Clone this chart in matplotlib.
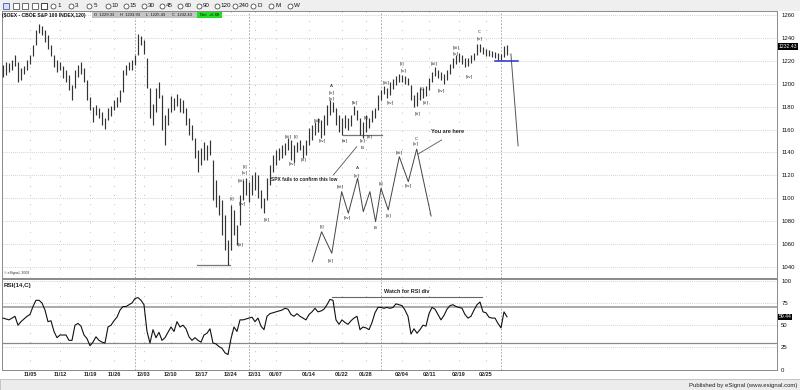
import matplotlib
matplotlib.use('Agg')
import matplotlib.pyplot as plt
from matplotlib.patches import Rectangle
from matplotlib.lines import Line2D
import matplotlib.transforms as mtransforms

# ---------------- data ----------------
highs = [1216.4, 1219.0, 1218.1, 1220.7, 1225.1, 1219.0, 1213.7, 1215.5, 1220.7, 1225.1,
         1233.8, 1246.9, 1252.1, 1250.4, 1246.9, 1242.5, 1233.8, 1225.1, 1220.7, 1219.0,
         1215.5, 1212.0, 1207.6, 1198.9, 1212.0, 1216.4, 1219.0, 1213.7, 1203.3, 1188.4,
         1179.7, 1181.4, 1178.8, 1175.3, 1170.1, 1178.8, 1180.6, 1185.8, 1188.4, 1194.5,
         1212.0, 1216.4, 1219.0, 1220.7, 1225.1, 1243.4, 1241.7, 1238.2, 1222.5, 1196.0,
         1182.3, 1196.3, 1201.5, 1190.2, 1172.7, 1178.8, 1189.3, 1187.5, 1191.0, 1187.5,
         1185.8, 1178.8, 1170.1, 1164.0, 1152.6, 1142.1, 1143.9, 1149.1, 1146.5, 1150.9,
         1133.0, 1116.0, 1102.9, 1098.5, 1085.4, 1063.6, 1094.1, 1089.8, 1076.7, 1102.9,
         1116.0, 1117.7, 1114.2, 1120.3, 1123.0, 1120.3, 1107.2, 1100.3, 1117.7, 1129.0,
         1137.8, 1142.1, 1143.9, 1146.5, 1148.3, 1152.6, 1150.9, 1146.5, 1149.1, 1150.9,
         1146.5, 1150.9, 1161.4, 1164.0, 1166.6, 1170.1, 1168.3, 1172.7, 1181.4, 1185.8,
         1184.1, 1178.8, 1172.7, 1170.1, 1172.7, 1170.1, 1172.7, 1180.6, 1177.1, 1170.1,
         1166.6, 1172.7, 1170.1, 1177.1, 1178.8, 1190.2, 1194.5, 1198.0, 1196.3, 1201.5,
         1204.1, 1206.8, 1208.5, 1207.6, 1206.8, 1205.0, 1198.9, 1190.2, 1192.8, 1196.3,
         1196.3, 1198.0, 1205.0, 1210.2, 1214.6, 1212.0, 1210.2, 1208.5, 1212.0, 1217.2,
         1222.5, 1225.1, 1226.8, 1225.1, 1222.5, 1222.5, 1225.1, 1226.8, 1234.7, 1234.7,
         1232.1, 1230.3, 1229.4, 1228.6, 1227.7, 1226.8, 1226.0, 1232.9, 1233.93]
lows = [1205.9, 1207.6, 1210.2, 1212.0, 1215.5, 1201.5, 1203.3, 1208.5, 1212.0, 1217.2,
        1224.2, 1233.8, 1244.3, 1242.5, 1236.4, 1230.3, 1224.2, 1214.6, 1210.2, 1212.0,
        1205.0, 1201.5, 1194.5, 1185.8, 1196.3, 1205.9, 1208.5, 1201.5, 1185.8, 1177.1,
        1166.6, 1172.7, 1170.1, 1164.0, 1160.5, 1168.3, 1171.8, 1177.1, 1179.7, 1184.1,
        1192.8, 1207.6, 1212.0, 1212.0, 1216.4, 1225.1, 1233.8, 1226.0, 1196.3, 1170.1,
        1164.0, 1175.3, 1187.5, 1159.6, 1146.5, 1164.0, 1175.3, 1177.1, 1180.6, 1175.3,
        1174.4, 1164.0, 1155.2, 1150.9, 1135.2, 1122.9, 1129.0, 1133.4, 1133.4, 1137.8,
        1098.5, 1092.4, 1085.4, 1067.9, 1054.8, 1041.7, 1054.8, 1067.9, 1059.2, 1076.7,
        1098.5, 1102.9, 1096.8, 1102.9, 1107.2, 1100.3, 1091.5, 1087.2, 1098.5, 1111.6,
        1122.9, 1129.0, 1133.4, 1135.2, 1137.8, 1142.1, 1133.4, 1131.7, 1140.4, 1142.1,
        1135.2, 1137.8, 1146.5, 1150.9, 1155.2, 1157.9, 1152.6, 1155.2, 1164.0, 1172.7,
        1175.3, 1164.0, 1157.9, 1155.2, 1161.4, 1159.6, 1163.1, 1172.7, 1168.3, 1155.2,
        1152.6, 1157.9, 1161.4, 1166.6, 1170.1, 1177.1, 1185.8, 1191.0, 1187.5, 1190.2,
        1195.4, 1198.9, 1201.5, 1201.5, 1199.8, 1198.9, 1185.8, 1179.7, 1180.6, 1185.8,
        1187.5, 1189.3, 1194.5, 1201.5, 1206.8, 1205.0, 1203.3, 1199.8, 1203.3, 1208.5,
        1213.7, 1217.2, 1219.0, 1217.2, 1214.6, 1215.5, 1218.1, 1220.7, 1225.1, 1227.7,
        1226.0, 1224.2, 1224.2, 1223.3, 1222.5, 1220.7, 1220.7, 1223.3, 1225.43]
rsi = [58, 57, 56, 58, 60, 50, 54, 57, 60, 62,
       71, 78, 78, 75, 67, 54, 55, 43, 36, 39,
       39, 39, 33, 33, 50, 52, 49, 39, 35, 27,
       31, 37, 33, 31, 30, 48, 50, 55, 59, 67,
       71, 71, 73, 75, 80, 81, 78, 73, 43, 30,
       45, 36, 42, 33, 36, 42, 48, 43, 54, 48,
       50, 46, 37, 33, 36, 33, 31, 39, 41, 46,
       30, 29, 26, 24, 19, 17, 35, 48, 43, 56,
       56, 57, 58, 59, 54, 58, 49, 45, 60, 63,
       64, 65, 66, 67, 69, 68, 62, 60, 63, 60,
       58, 56, 62, 65, 69, 65, 66, 68, 73, 79,
       78, 56, 51, 56, 53, 51, 55, 58, 60, 45,
       48, 47, 45, 53, 64, 70, 70, 69, 70, 69,
       70, 74, 73, 72, 67, 60, 40, 46, 41, 45,
       50, 49, 63, 70, 68, 62, 56, 61, 68, 72,
       73, 71, 70, 69, 62, 58, 60, 67, 73, 76,
       65, 64, 59, 58, 58, 52, 47, 65, 59.44]

date_labels = ['11/05', '11/12', '11/19', '11/26', '12/03', '12/10', '12/17', '12/24',
               '12/31', '01/07', '01/14', '01/22', '01/28', '02/04', '02/11', '02/19', '02/25']
date_bars = [9, 19, 29, 37, 47, 56, 66, 76, 84, 91, 102, 113, 121, 133, 142, 152, 161]
month_bars = [44, 82, 126, 166]

quote_open, quote_high, quote_low, quote_close, quote_net = 1229.33, 1233.93, 1225.43, 1232.43, 6.88
rsi_last = 59.44

# projected wave path (bar index, price)
proj_bars = [103.1, 106.2, 109.6, 112.9, 115.1, 118.2, 120.1, 122.3, 124.2, 126.0, 128.4, 132.1, 135.1, 137.9, 142.7]
proj_prices = [1044.6, 1070.8, 1052.0, 1105.8, 1086.9, 1117.5, 1088.3, 1105.8, 1079.6, 1108.7, 1089.8, 1136.3, 1114.5, 1143.0, 1084.5]

support_level = 1220
low_level = 1041.7
ab_level = 1155

wave_labels = [
    ('[i]', 80.5, 1127.7), ('[v]', 80.5, 1122.9), ('[iii]', 79.3, 1115.5), ('[i]', 76.4, 1100.2),
    ('[iv]', 79.8, 1095.4), ('[ii]', 79.2, 1060.1), ('[ii]', 87.7, 1081.6), ('[iii]', 95, 1154.4),
    ('[i]', 97.7, 1154.4), ('[iv]', 96.5, 1130.5), ('[ii]', 100.3, 1134.0), ('[iii]', 104.8, 1168.3),
    ('[iv]', 106.4, 1150.9), ('A', 109.6, 1198.0), ('[v]', 109.6, 1192.5), ('[v]', 109.6, 1187.3),
    ('[a]', 113.8, 1150.9), ('[b]', 117.3, 1183.4), ('[c]', 119.8, 1150.9), ('B', 119.6, 1144.2),
    ('[i]', 121, 1170.3), ('[ii]', 122.3, 1153.8), ('[iii]', 127.7, 1201.1), ('[iv]', 129, 1184.1),
    ('[i]', 133.1, 1217.5), ('[v]', 133.4, 1211.7), ('[ii]', 138.1, 1173.8), ('[i]', 139.8, 1196.3),
    ('[ii]', 140.9, 1183.4), ('[iii]', 143.8, 1217.5), ('[iv]', 146, 1194.3), ('[iii]', 151, 1232.1),
    ('[v]', 151, 1226.2), ('[iv]', 155.3, 1206.8), ('C', 158.8, 1245.2), ('[v]', 158.8, 1239.9),
    ('[i]', 106.2, 1075.8), ('[ii]', 109.3, 1046.1), ('[iii]', 112.3, 1110.7), ('[iv]', 114.9, 1083.0),
    ('A', 118, 1126.2), ('[v]', 118, 1120.3), ('B', 124.2, 1073.8), ('[i]', 126, 1113.1),
    ('[ii]', 128.4, 1084.8), ('[iii]', 132.1, 1139.8), ('[iv]', 135.1, 1111.6), ('C', 137.7, 1152.0),
    ('[v]', 137.7, 1147.6),
]

toolbar_items = ['1', '3', '5', '10', '15', '30', '45', '60', '90', '120', '240', 'D', 'M', 'W']

# ---------------- figure ----------------
W, H = 800, 390
plt.rcParams['font.family'] = ['Liberation Sans', 'DejaVu Sans']
fig = plt.figure(figsize=(8, 3.9), dpi=100, facecolor='white')


def fx(x):
    return x / W


def fy(y):
    return 1 - y / H


def rect_px(x0, y0, x1, y1):
    return [fx(x0), fy(y1), fx(x1) - fx(x0), fy(y0) - fy(y1)]


# toolbar
fig.add_artist(Rectangle((0, fy(11)), 1, 11 / H, transform=fig.transFigure,
                         facecolor='#efefef', edgecolor='none'))
icon_cols = ['#3b5bb5', '#555555', '#555555', '#555555', '#222222']
for k, c in enumerate(icon_cols):
    fig.add_artist(Rectangle((fx(3 + k * 9.5), fy(9)), 6 / W, 6 / H, transform=fig.transFigure,
                             facecolor='white' if k else '#d9def5', edgecolor=c, lw=0.6))
for k, lab in enumerate(toolbar_items):
    cx = 53 + k * 18.2
    fig.add_artist(Line2D([fx(cx)], [fy(5.5)], marker='o', ms=3.6, mfc='white', mec='#333333',
                          mew=0.5, transform=fig.transFigure))
    fig.text(fx(cx + 4), fy(5.5), lab, fontsize=4.5, va='center', ha='left', color='#111111')

# bottom band
fig.add_artist(Rectangle((0, 0), 1, 11 / H, transform=fig.transFigure,
                         facecolor='#ececec', edgecolor='#b0b0b0', lw=0.5))
fig.text(fx(797), fy(385), 'Published by eSignal (www.esignal.com)', fontsize=4.3,
         ha='right', va='center', color='#222222')

# ---------------- price panel ----------------
ax = fig.add_axes(rect_px(2, 11, 777, 278))
n = len(highs)
idx = list(range(n))
ax.set_xlim(-0.33, 258)
ax.set_ylim(1030.4, 1263.5)

ax.set_yticks(list(range(1040, 1261, 20)))
ax.set_xticks(date_bars)
ax.yaxis.tick_right()
ax.tick_params(axis='y', length=0, labelsize=4.3, pad=3, labelcolor='#111111')
ax.tick_params(axis='x', length=0, labelbottom=False)
ax.grid(axis='y', ls=(0, (1.5, 1.5)), color='#c4c4c4', lw=0.5)
ax.grid(axis='x', ls=(0, (1, 10)), color='#a8a8a8', lw=0.6)
for sp in ax.spines.values():
    sp.set_color('#8a8a8a')
    sp.set_linewidth(0.7)
for b in month_bars:
    ax.axvline(b, color='#9a9a9a', ls=(0, (2, 2)), lw=0.6, zorder=1)

ax.vlines(idx, lows, highs, color='#333333', lw=0.85, zorder=3)

# projection and annotation lines
ax.plot(proj_bars, proj_prices, color='#444444', lw=0.7, zorder=3)
ax.plot([64.7, 75.7], [low_level, low_level], color='#777777', lw=0.9)
ax.plot([113.3, 126.3], [ab_level, ab_level], color='#777777', lw=0.9)
ax.plot([164, 171.7], [support_level, support_level], color='#2233cc', lw=1.1, zorder=4)
ax.plot([169.3, 171.7], [1226.0, 1145.8], color='#555555', lw=0.7)
ax.plot([110.1, 117.9], [1120.3, 1145.0], color='#555555', lw=0.6)
ax.plot([138.4, 146.2], [1138.7, 1150.9], color='#555555', lw=0.6)

for lab, bx, py in wave_labels:
    ax.text(bx, py, lab, fontsize=3.2, ha='center', va='center', color='#222222', zorder=5,
            family=['DejaVu Sans'])

ax.text(100.3, 1116.8, 'SPX fails to confirm this low', fontsize=3.5, ha='center', va='center',
        color='#222222', weight='bold')
ax.text(148.3, 1158.0, 'You are here', fontsize=4.0, ha='center', va='center',
        color='#222222', weight='bold')
ax.text(0.003, 0.012, '\u00a9 eSignal, 2008', transform=ax.transAxes, fontsize=2.5,
        ha='left', va='bottom', color='#333333')

# title row
fig.text(fx(2), fy(15.2), '($OEX - CBOE S&P 100 INDEX,120)',
         fontsize=3.6, weight='bold', ha='left', va='center', color='#111111')
fig.add_artist(Rectangle((fx(92), fy(17.8)), 105 / W, 5.4 / H, transform=fig.transFigure,
                         facecolor='#c4c4c4', edgecolor='none'))
for k, (tag, val) in enumerate([('O', quote_open), ('H', quote_high), ('L', quote_low), ('C', quote_close)]):
    fig.text(fx(94 + k * 26), fy(15.2), '%s  %.2f' % (tag, val), fontsize=3.0,
             ha='left', va='center', color='#111111')
fig.add_artist(Rectangle((fx(197), fy(17.8)), 25 / W, 5.4 / H, transform=fig.transFigure,
                         facecolor='#22dd22', edgecolor='none'))
fig.text(fx(209.5), fy(15.2), 'Net  +%.2f' % quote_net, fontsize=3.0, ha='center', va='center',
         color='#111111')

# last price marker
trans_p = mtransforms.blended_transform_factory(ax.transAxes, ax.transData)
ax.text(1.002, quote_close, '%.2f' % quote_close, transform=trans_p, fontsize=3.7, color='white',
        ha='left', va='center', clip_on=False,
        bbox=dict(boxstyle='square,pad=0.12', facecolor='black', edgecolor='none'))

# ---------------- RSI panel ----------------
ax2 = fig.add_axes(rect_px(2, 279, 777, 370))
ax2.set_xlim(-0.33, 258)
ax2.set_ylim(-0.3, 101.9)
ax2.plot(idx, rsi, color='#111111', lw=0.8, zorder=3)
ax2.set_yticks([0, 25, 50, 75, 100])
ax2.yaxis.tick_right()
ax2.tick_params(axis='y', length=0, labelsize=4.3, pad=3, labelcolor='#111111')
ax2.set_xticks(date_bars)
ax2.set_xticklabels(date_labels, fontsize=4.0, weight='bold', color='#222222')
ax2.tick_params(axis='x', length=0, pad=1.8)
ax2.grid(axis='y', ls=(0, (1.5, 1.5)), color='#c4c4c4', lw=0.5)
ax2.grid(axis='x', ls=(0, (1, 10)), color='#a8a8a8', lw=0.6)
for b in month_bars:
    ax2.axvline(b, color='#9a9a9a', ls=(0, (2, 2)), lw=0.6, zorder=1)
ax2.axhline(70, color='#aaaaaa', lw=1.4, zorder=2)
ax2.axhline(30, color='#888888', lw=0.9, zorder=2)
for sp in ax2.spines.values():
    sp.set_color('#8a8a8a')
    sp.set_linewidth(0.7)
ax2.plot([109.6, 159.6], [81.5, 81.5], color='#666666', lw=0.8)
ax2.text(134.5, 87.5, 'Watch for RSI div', fontsize=4.0, ha='center', va='center',
         color='#222222', weight='bold')
ax2.text(0.002, 0.93, 'RSI(14,C)', transform=ax2.transAxes, fontsize=4.5, weight='bold',
         ha='left', va='center', color='#222222')
trans_r = mtransforms.blended_transform_factory(ax2.transAxes, ax2.transData)
ax2.text(1.002, rsi_last, '%.2f' % rsi_last, transform=trans_r, fontsize=3.7, color='white',
         ha='left', va='center', clip_on=False,
         bbox=dict(boxstyle='square,pad=0.12', facecolor='black', edgecolor='none'))

fig.savefig('out.png', dpi=100, facecolor='white')
